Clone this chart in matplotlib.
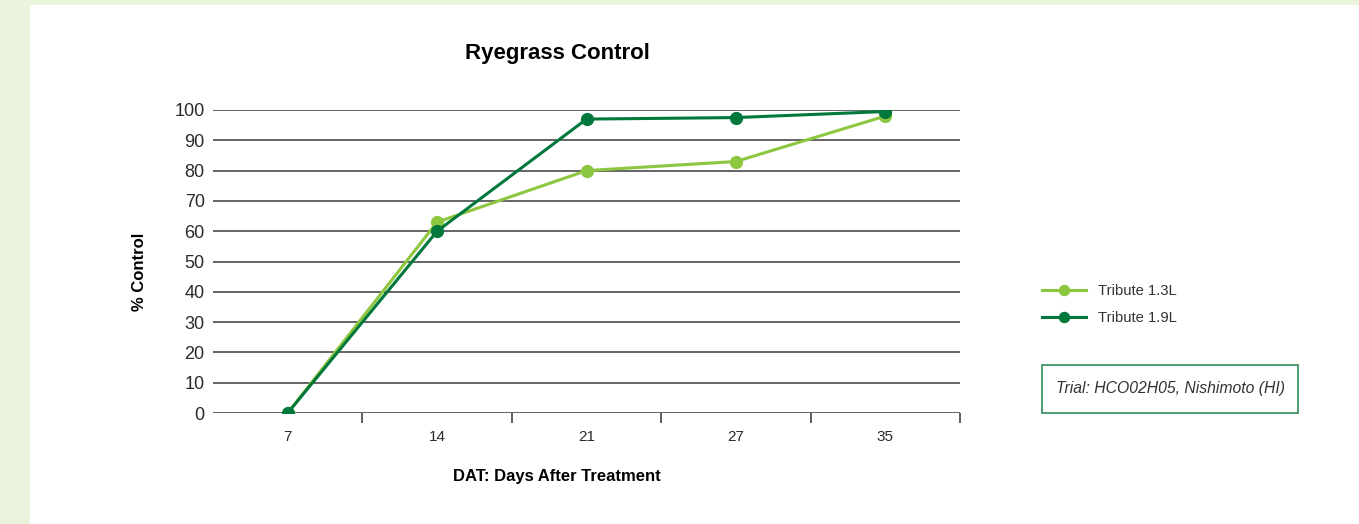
# Ryegrass Control chart
import matplotlib.pyplot as plt
from matplotlib.patches import Rectangle

plt.rcParams['font.family'] = ['Liberation Sans', 'DejaVu Sans']

# Dados
days = ['7', '14', '21', '27', '35']
tribute_13 = [0, 63, 80, 83, 98]
tribute_19 = [0, 60, 97, 97.5, 99.5]
y_ticks = [0, 10, 20, 30, 40, 50, 60, 70, 80, 90, 100]

light_green = '#8dc63f'
dark_green = '#00783c'

fig = plt.figure(figsize=(13.59, 5.24), dpi=100)
fig.patch.set_facecolor('#eaf3dc')

# painel branco
fig.patches.append(Rectangle((30 / 1359, 0), 1, 1 - 5 / 524, transform=fig.transFigure,
                             facecolor='white', edgecolor='none', zorder=-10))

ax = fig.add_axes([213 / 1359, 1 - 413 / 524, 747 / 1359, 303 / 524])
ax.set_facecolor('none')

x = list(range(len(days)))
ax.plot(x, tribute_13, color=light_green, lw=2.2, marker='o', ms=8.5, label='Tribute 1.3L', zorder=3)
ax.plot(x, tribute_19, color=dark_green, lw=2.2, marker='o', ms=8.5, label='Tribute 1.9L', zorder=4)

ax.set_xlim(-0.5, len(days) - 0.5)
ax.set_ylim(0, 100)
ax.set_yticks(y_ticks)
for v in y_ticks:
    ax.axhline(v, color='#3a3a3a', lw=1.1, zorder=1)
for s in ax.spines.values():
    s.set_visible(False)

ax.set_xticks(x)
ax.set_xticklabels(days)
ax.tick_params(axis='x', which='major', length=0, pad=12, labelsize=11, colors='#2a2a2a')
ax.set_xticks([i + 0.5 for i in x], minor=True)
ax.tick_params(axis='x', which='minor', length=7, width=1.1, color='#333333', direction='out')
ax.tick_params(axis='y', length=0, pad=6, labelsize=13, colors='#2a2a2a')

# titulos
fig.text(557 / 1359, 1 - 54 / 524, 'Ryegrass Control', fontsize=16, fontweight='bold',
         ha='center', va='center')
fig.text(140 / 1359, 1 - 272 / 524, '% Control', fontsize=12, fontweight='bold',
         rotation=90, ha='center', va='center')
fig.text(557 / 1359, 1 - 476 / 524, 'DAT: Days After Treatment', fontsize=12,
         fontweight='bold', ha='center', va='center')

leg = fig.legend(loc='upper left', bbox_to_anchor=(1029 / 1359, 1 - 271 / 524), frameon=False,
                 fontsize=10.6, handlelength=3.0, labelspacing=0.9, markerscale=0.85)
for t in leg.get_texts():
    t.set_color('#333333')

fig.text(1170 / 1359, 1 - 389 / 524, 'Trial: HCO02H05, Nishimoto (HI)', fontsize=11.3,
         style='italic', color='#333333', ha='center', va='center')
fig.patches.append(Rectangle((1042 / 1359, 1 - 413 / 524), 256 / 1359, 48 / 524,
                             transform=fig.transFigure, facecolor='none',
                             edgecolor='#2e8b57', lw=1.2))

plt.savefig('out.png', dpi=100)
